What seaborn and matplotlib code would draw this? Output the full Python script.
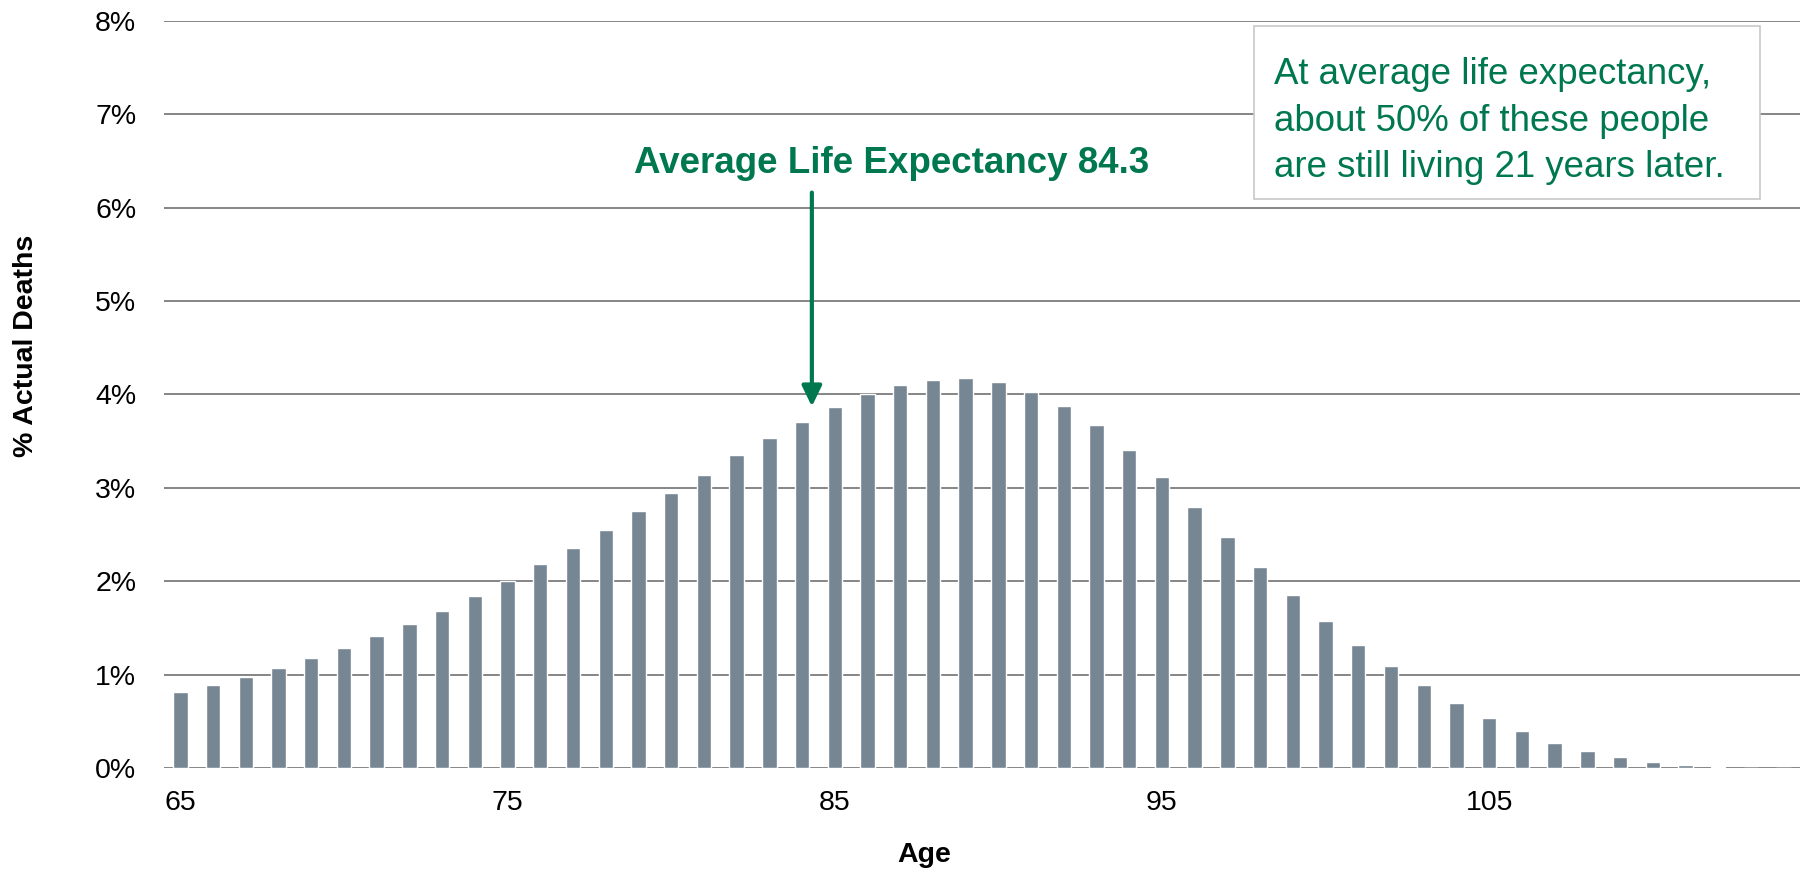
import numpy as np
import pandas as pd
import matplotlib.pyplot as plt
from matplotlib.patches import Rectangle
import seaborn as sns

sns.set_theme(style="white")
plt.rcParams['font.family'] = ['Liberation Sans', 'DejaVu Sans']
plt.rcParams['text.color'] = 'black'

# age at death, from 65
ages = list(range(65, 115))
# % of actual deaths at each age
deaths_pct = [0.81, 0.885, 0.97, 1.067, 1.174, 1.28, 1.41, 1.54, 1.68, 1.84,
              2.00, 2.18, 2.36, 2.55, 2.75, 2.94, 3.14, 3.35, 3.53, 3.70,
              3.86, 4.00, 4.10, 4.15, 4.17, 4.13, 4.03, 3.87, 3.67, 3.40,
              3.11, 2.79, 2.47, 2.15, 1.85, 1.57, 1.32, 1.09, 0.886, 0.694,
              0.534, 0.395, 0.267, 0.18, 0.117, 0.064, 0.032, 0.01, 0.0, 0.0]
tick_ages = [65, 75, 85, 95, 105]
y_ticks = [0, 1, 2, 3, 4, 5, 6, 7, 8]
life_expectancy = 84.3

green = '#00784F'
bar_color = '#778693'
grid_color = '#858585'

df = pd.DataFrame({"age": ages, "pct": deaths_pct})

fig = plt.figure(figsize=(18, 8.73), dpi=100)
ax = fig.add_axes([164 / 1800, 1 - 768 / 873, 1 - 164 / 1800, (768 - 20.7) / 873])

sns.barplot(data=df, x="age", y="pct", color=bar_color, width=0.44,
            saturation=1, ax=ax)

ax.set_xlim(-0.5, len(ages) - 0.5)
ax.set_ylim(0, 8)
ax.set_yticks(y_ticks)
ax.set_yticklabels([f"{v}%" for v in y_ticks])
ax.set_xticks([ages.index(a) for a in tick_ages])
ax.set_xticklabels([str(a) for a in tick_ages])
ax.tick_params(axis='both', length=0, labelsize=20.5, colors='black')
ax.tick_params(axis='y', pad=20)
ax.tick_params(axis='x', pad=16)
ax.yaxis.grid(True, color=grid_color, linewidth=1.4)
ax.set_axisbelow(True)
for s in ax.spines.values():
    s.set_visible(False)
ax.set_xlabel("")
ax.set_ylabel("")

# arrow pointing at average life expectancy
le_pos = ages.index(84) + (life_expectancy - 84)
ax.annotate("", xy=(le_pos, 3.87), xytext=(le_pos, 6.16),
            arrowprops=dict(arrowstyle="-|>,head_length=0.62,head_width=0.3",
                            mutation_scale=20, color=green, lw=3.0,
                            shrinkA=0, shrinkB=0))
ax.text(21.73, 6.37, f"Average Life Expectancy {life_expectancy}",
        ha='center', va='baseline', fontsize=26.5, fontweight='bold', color=green)

# callout box
fig.patches.append(Rectangle((1254 / 1800, 1 - 199 / 873), (1760 - 1254) / 1800,
                             (199 - 25.7) / 873, transform=fig.transFigure,
                             facecolor='white', edgecolor='#c8c8c8', linewidth=1.2,
                             zorder=3))
fig.text(1274 / 1800, 1 - 177 / 873,
         "At average life expectancy,\nabout 50% of these people\nare still living 21 years later.",
         ha='left', va='baseline', fontsize=26.4, color=green, linespacing=1.42,
         zorder=4)

fig.text(924 / 1800, 1 - 855 / 873, "Age", ha='center', va='center',
         fontsize=20.5, fontweight='bold')
fig.text(26 / 1800, 1 - 346 / 873, "% Actual Deaths", ha='center', va='center',
         rotation=90, fontsize=20.5, fontweight='bold')

fig.savefig("out.png", dpi=100)
